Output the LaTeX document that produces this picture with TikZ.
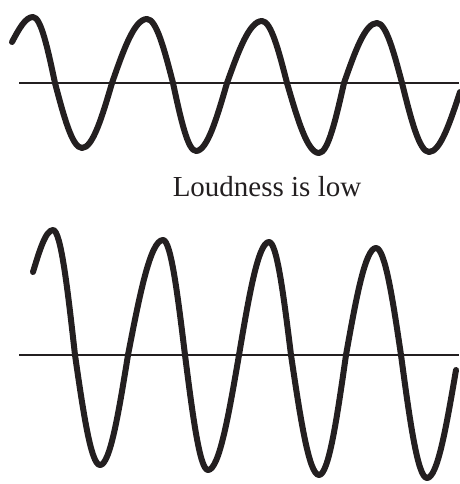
\documentclass[tikz,border=0pt]{standalone}
\usepackage{fontspec}
\setmainfont{Liberation Serif}
\usetikzlibrary{positioning}
\definecolor{tinta}{HTML}{231F20}

\begin{document}
\begin{tikzpicture}[x=1pt,y=-1pt,
      onda/.style={draw=tinta,line width=6pt,line cap=round,line join=round},
      eje/.style={draw=tinta,line width=2.6pt},
      rotulo/.style={text=tinta,font=\fontsize{29}{32}\selectfont,inner sep=0pt,anchor=base}]
    \useasboundingbox (0,0) rectangle (459,484);
    % ejes
    \coordinate (ejeA1) at (19,83);  \coordinate (ejeA2) at (459,83);
    \coordinate (ejeB1) at (19,355); \coordinate (ejeB2) at (459,355);
    \draw[eje] (ejeA1) -- (ejeA2);
    \draw[eje] (ejeB1) -- (ejeB2);
    % onda de poca amplitud
    \draw[onda] (12,42) sin (33,17) cos (55,83) sin (82,148) cos (112,83)
      sin (147,19) cos (173,83) sin (196,151) cos (227,83) sin (262,21)
      cos (287,83) sin (319,153) cos (344,83) sin (377,23) cos (402,83)
      sin (429,152) cos (460,92);
    % rotulo
    \node[rotulo] (volumen) at (267,196) {Loudness is low};
    % onda de gran amplitud
    \draw[onda] (33,272) sin (53,230) cos (75,355) sin (100,465) cos (128,355)
      sin (163,240) cos (185,355) sin (208,470) cos (239,355) sin (269,242)
      cos (291,355) sin (319,475) cos (346,355) sin (376,248) cos (401,355)
      sin (427,478) cos (456,370);
\end{tikzpicture}
\end{document}
